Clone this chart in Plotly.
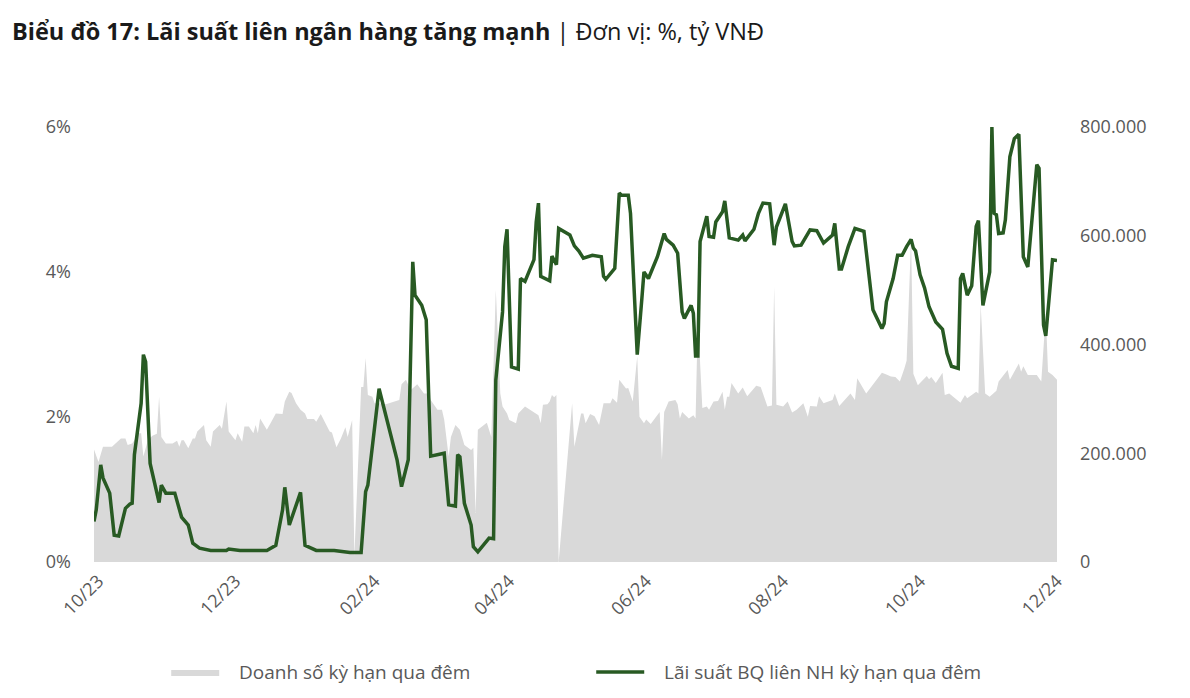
import plotly.graph_objects as go

# ---- Data ----
rate_dates = [
    "2023-09-29","2023-09-30","2023-10-02","2023-10-03","2023-10-06","2023-10-08","2023-10-10","2023-10-13","2023-10-15","2023-10-16","2023-10-17","2023-10-20","2023-10-21","2023-10-22","2023-10-24","2023-10-28","2023-10-29","2023-10-31",
    "2023-11-04","2023-11-07","2023-11-10","2023-11-12","2023-11-15","2023-11-20","2023-11-27","2023-11-28",
    "2023-12-03","2023-12-11","2023-12-15","2023-12-19","2023-12-22","2023-12-23","2023-12-25","2023-12-30",
    "2024-01-01","2024-01-06","2024-01-14","2024-01-21","2024-01-26","2024-01-28","2024-01-29",
    "2024-02-03","2024-02-11","2024-02-13","2024-02-16","2024-02-18","2024-02-19","2024-02-22","2024-02-24","2024-02-26",
    "2024-03-03","2024-03-05","2024-03-08","2024-03-09","2024-03-10","2024-03-12","2024-03-15","2024-03-16","2024-03-18","2024-03-23","2024-03-25","2024-03-26","2024-03-29","2024-03-30","2024-03-31",
    "2024-04-02","2024-04-05","2024-04-06","2024-04-08","2024-04-12","2024-04-13","2024-04-14","2024-04-15","2024-04-19","2024-04-20","2024-04-22","2024-04-23","2024-04-28","2024-04-30",
    "2024-05-02","2024-05-04","2024-05-08","2024-05-12","2024-05-13","2024-05-14","2024-05-18","2024-05-20","2024-05-21","2024-05-24","2024-05-25","2024-05-28","2024-05-30","2024-05-31",
    "2024-06-02","2024-06-04","2024-06-06","2024-06-09","2024-06-10","2024-06-13","2024-06-15","2024-06-17","2024-06-18","2024-06-21","2024-06-22","2024-06-23","2024-06-24","2024-06-25","2024-06-28","2024-06-29",
    "2024-07-01","2024-07-02","2024-07-05","2024-07-06","2024-07-08","2024-07-12","2024-07-14","2024-07-15","2024-07-19","2024-07-21","2024-07-23","2024-07-26","2024-07-28","2024-07-29",
    "2024-08-02","2024-08-05","2024-08-06","2024-08-09","2024-08-11","2024-08-13","2024-08-16","2024-08-19","2024-08-23","2024-08-24","2024-08-26","2024-08-27","2024-08-30",
    "2024-09-02","2024-09-06","2024-09-10","2024-09-14","2024-09-15","2024-09-16","2024-09-19","2024-09-21","2024-09-23","2024-09-25","2024-09-27","2024-09-28","2024-09-29",
    "2024-10-01","2024-10-03","2024-10-05","2024-10-08","2024-10-11","2024-10-13","2024-10-15","2024-10-18","2024-10-19","2024-10-20","2024-10-22","2024-10-24","2024-10-26","2024-10-27","2024-10-29",
    "2024-11-01","2024-11-02","2024-11-03","2024-11-04","2024-11-05","2024-11-07","2024-11-08","2024-11-10","2024-11-12","2024-11-14","2024-11-16","2024-11-18","2024-11-22","2024-11-23","2024-11-25","2024-11-26","2024-11-29","2024-12-01",
]
rate_values = [
    0.56,0.72,1.34,1.16,0.95,0.37,0.36,0.74,0.80,0.81,1.48,2.19,2.86,2.76,1.36,0.82,1.06,0.95,
    0.95,0.62,0.51,0.26,0.19,0.16,0.16,0.18,
    0.16,0.16,0.16,0.23,0.72,1.03,0.51,0.96,
    0.23,0.16,0.16,0.13,0.13,0.97,1.06,
    2.39,1.41,1.04,1.41,4.14,3.68,3.54,3.34,1.46,
    1.50,0.79,0.77,1.48,1.45,0.81,0.51,0.21,0.14,0.33,0.32,2.51,3.45,4.35,4.59,
    2.69,2.66,3.91,3.87,4.17,4.69,4.95,3.94,3.88,4.22,4.10,4.60,4.51,4.36,
    4.29,4.19,4.23,4.21,3.94,3.90,4.05,5.09,5.06,5.06,4.81,2.86,3.61,4.00,
    3.91,4.07,4.21,4.53,4.45,4.37,4.26,3.45,3.36,3.54,3.43,2.84,2.84,4.42,4.77,4.49,
    4.48,4.69,4.83,4.98,4.47,4.44,4.51,4.43,4.59,4.81,4.95,4.94,4.37,4.62,
    4.94,4.42,4.36,4.37,4.47,4.58,4.57,4.40,4.51,4.67,4.04,4.04,4.35,
    4.60,4.56,3.48,3.22,3.29,3.59,3.91,4.23,4.23,4.35,4.45,4.33,4.29,
    3.96,3.78,3.52,3.31,3.21,2.88,2.70,2.67,3.91,3.98,3.68,3.81,4.63,4.71,3.54,
    4.00,6.00,4.81,4.79,4.53,4.54,4.72,5.59,5.84,5.90,4.21,4.07,5.48,5.43,3.27,3.12,4.17,4.16,
]

vol_dates = [
    "2023-09-29","2023-10-01","2023-10-03","2023-10-07","2023-10-11","2023-10-13","2023-10-14","2023-10-16","2023-10-19","2023-10-20","2023-10-21","2023-10-23","2023-10-25","2023-10-27","2023-10-28","2023-10-29","2023-10-31",
    "2023-11-03","2023-11-05","2023-11-06","2023-11-07","2023-11-08","2023-11-10","2023-11-12","2023-11-13","2023-11-14","2023-11-17","2023-11-18","2023-11-20","2023-11-21","2023-11-24","2023-11-25","2023-11-27","2023-11-28",
    "2023-12-01","2023-12-02","2023-12-04","2023-12-05","2023-12-07","2023-12-09","2023-12-10","2023-12-11","2023-12-12","2023-12-15","2023-12-17","2023-12-19","2023-12-22","2023-12-23","2023-12-25","2023-12-26","2023-12-28","2023-12-30",
    "2024-01-01","2024-01-02","2024-01-05","2024-01-06","2024-01-08","2024-01-09","2024-01-12","2024-01-13","2024-01-15","2024-01-17","2024-01-19","2024-01-20","2024-01-22","2024-01-23","2024-01-26","2024-01-27","2024-01-28","2024-01-29","2024-01-31",
    "2024-02-01","2024-02-03","2024-02-06","2024-02-12","2024-02-13","2024-02-15","2024-02-17","2024-02-20","2024-02-23","2024-02-25","2024-02-26","2024-02-29",
    "2024-03-02","2024-03-03","2024-03-05","2024-03-06","2024-03-08","2024-03-10","2024-03-12","2024-03-15","2024-03-16","2024-03-17","2024-03-18","2024-03-20","2024-03-22","2024-03-24","2024-03-26","2024-03-28","2024-03-29","2024-03-31",
    "2024-04-01","2024-04-04","2024-04-05","2024-04-08","2024-04-12","2024-04-14","2024-04-15","2024-04-16","2024-04-18","2024-04-19","2024-04-20","2024-04-21","2024-04-22","2024-04-23","2024-04-29","2024-04-30",
    "2024-05-03","2024-05-04","2024-05-05","2024-05-07","2024-05-09","2024-05-11","2024-05-13","2024-05-16","2024-05-17","2024-05-19","2024-05-20","2024-05-23","2024-05-24","2024-05-26","2024-05-28","2024-05-29","2024-05-31",
    "2024-06-01","2024-06-03","2024-06-07","2024-06-08","2024-06-09","2024-06-11","2024-06-14","2024-06-15","2024-06-16","2024-06-17","2024-06-20","2024-06-22","2024-06-23","2024-06-24","2024-06-26","2024-06-28","2024-06-29",
    "2024-07-01","2024-07-03","2024-07-05","2024-07-06","2024-07-07","2024-07-08","2024-07-09","2024-07-12","2024-07-14","2024-07-16","2024-07-20","2024-07-22","2024-07-25","2024-07-27","2024-07-28","2024-07-29",
    "2024-08-01","2024-08-03","2024-08-05","2024-08-07","2024-08-10","2024-08-12","2024-08-13","2024-08-16","2024-08-17","2024-08-19","2024-08-23","2024-08-24","2024-08-26","2024-08-31",
    "2024-09-02","2024-09-03","2024-09-07","2024-09-14","2024-09-16","2024-09-18","2024-09-20","2024-09-22","2024-09-24","2024-09-25","2024-09-27","2024-09-28","2024-09-30",
    "2024-10-04","2024-10-05","2024-10-06","2024-10-08","2024-10-11","2024-10-12","2024-10-14","2024-10-19","2024-10-21","2024-10-22","2024-10-26","2024-10-27","2024-10-28","2024-10-30",
    "2024-11-01","2024-11-04","2024-11-05","2024-11-09","2024-11-10","2024-11-14","2024-11-15","2024-11-16","2024-11-18","2024-11-22","2024-11-24","2024-11-26","2024-11-27","2024-11-29","2024-12-01",
]
vol_values = [
    207000,184000,212000,212000,227000,227000,215000,218000,237000,237000,194000,224000,232000,236000,304000,230000,218000,
    218000,223000,212000,224000,224000,209000,227000,227000,240000,252000,224000,212000,240000,252000,245000,295000,240000,
    224000,237000,221000,249000,249000,237000,252000,237000,264000,243000,258000,273000,272000,295000,313000,311000,292000,280000,
    273000,263000,263000,258000,272000,264000,240000,238000,211000,227000,248000,230000,261000,10000,322000,322000,375000,307000,304000,
    292000,292000,290000,298000,327000,335000,316000,327000,310000,310000,298000,280000,
    280000,262000,194000,230000,252000,243000,215000,206000,210000,90000,243000,249000,256000,230000,500000,310000,286000,273000,
    261000,255000,273000,286000,276000,270000,255000,289000,290000,295000,307000,303000,307000,0,292000,212000,
    273000,273000,255000,272000,268000,252000,292000,292000,301000,293000,335000,319000,320000,295000,378000,267000,255000,
    262000,254000,276000,188000,276000,295000,298000,290000,264000,276000,264000,270000,264000,450000,283000,286000,280000,
    295000,296000,313000,280000,304000,304000,329000,310000,321000,305000,324000,322000,286000,288000,506000,289000,
    286000,295000,275000,280000,292000,267000,287000,286000,305000,292000,298000,310000,287000,310000,
    298000,338000,310000,348000,345000,341000,340000,332000,356000,370000,595000,346000,325000,
    342000,336000,340000,329000,348000,307000,310000,293000,307000,301000,313000,310000,473000,310000,
    304000,315000,332000,353000,335000,365000,350000,360000,344000,344000,332000,457000,350000,344000,335000,
]

tick_dates = ["2023-10-01","2023-12-01","2024-02-01","2024-04-01","2024-06-01","2024-08-01","2024-10-01","2024-12-01"]
tick_labels = ["10/23","12/23","02/24","04/24","06/24","08/24","10/24","12/24"]
rate_ticks = [0, 2, 4, 6]
rate_tick_labels = ["0%", "2%", "4%", "6%"]
vol_ticks = [0, 200000, 400000, 600000, 800000]

name_vol = "Doanh số kỳ hạn qua đêm"
name_rate = "Lãi suất BQ liên NH kỳ hạn qua đêm"

FONT = "Open Sans"
GREY_TXT = "#595959"
PAD = "\u00a0\u00a0\u00a0"

fig = go.Figure()
fig.add_trace(go.Scatter(
    x=vol_dates, y=vol_values, name=PAD + name_vol, mode="lines",
    line=dict(width=0, color="#d9d9d9"), fill="tozeroy", fillcolor="#d9d9d9",
    yaxis="y",
))
fig.add_trace(go.Scatter(
    x=rate_dates, y=rate_values, name=PAD + name_rate, mode="lines",
    line=dict(width=3.5, color="#285a23"),
    yaxis="y2",
))

fig.update_layout(
    width=1190, height=698,
    paper_bgcolor="white", plot_bgcolor="white",
    separators=",.",
    margin=dict(l=94, r=133, t=127, b=136, autoexpand=False),
    font=dict(family=FONT, color=GREY_TXT, size=18),
    title=dict(
        text="<b>Biểu đồ 17: Lãi suất liên ngân hàng tăng mạnh</b> | Đơn vị: %, tỷ VNĐ",
        x=12 / 1190, xanchor="left", xref="container",
        y=1 - 32 / 698, yanchor="middle", yref="container",
        font=dict(family=FONT, size=23.5, color="#1a1a1a"),
    ),
    xaxis=dict(
        type="date",
        range=["2023-09-29", "2024-12-01"],
        tickvals=tick_dates, ticktext=tick_labels,
        tickangle=-45, showgrid=False, zeroline=False, showline=False,
        ticks="", ticklabelstandoff=4, automargin=False,
        tickfont=dict(size=18, color=GREY_TXT),
    ),
    yaxis=dict(
        side="right", range=[0, 800000],
        tickvals=vol_ticks, tickformat=",d",
        showgrid=False, zeroline=False, showline=False, ticks="",
        ticklabelstandoff=22, automargin=False,
        tickfont=dict(size=18, color=GREY_TXT),
    ),
    yaxis2=dict(
        side="left", overlaying="y", range=[0, 6],
        tickvals=rate_ticks, ticktext=rate_tick_labels,
        showgrid=False, zeroline=False, showline=False, ticks="",
        ticklabelstandoff=22, automargin=False,
        tickfont=dict(size=18, color=GREY_TXT),
    ),
    legend=dict(
        orientation="h", x=0.075, xanchor="left", y=-0.253, yanchor="middle",
        itemwidth=48, entrywidth=362,
        font=dict(size=19, color=GREY_TXT),
        bgcolor="rgba(0,0,0,0)",
    ),
    showlegend=True,
)

fig.write_html("out.html")
